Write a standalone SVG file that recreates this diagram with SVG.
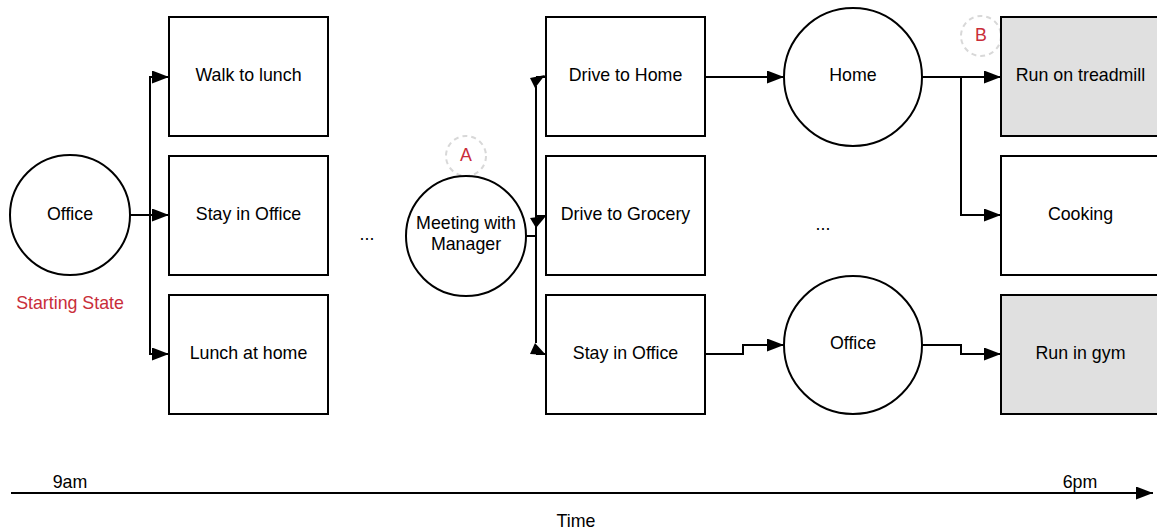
<svg xmlns="http://www.w3.org/2000/svg" width="1157" height="531" viewBox="0 0 1157 531">
<defs>
<marker id="arr" viewBox="0 0 17 13" refX="17" refY="6.5" markerWidth="17" markerHeight="13" markerUnits="userSpaceOnUse" orient="auto">
<path d="M0,0 L17,6.5 L0,13 Z" fill="#000"/>
</marker>
</defs>
<style>
.box{fill:#fff;stroke:#000;stroke-width:2}
.gray{fill:#e0e0e0}
.circ{fill:#fff;stroke:#000;stroke-width:2}
.t{font-family:"Liberation Sans",Arial,sans-serif;font-size:17.8px;fill:#000;text-anchor:middle}
.red{fill:#c92d39}
.con{fill:none;stroke:#000;stroke-width:2}
.tag{fill:#fff;stroke:#d8d8d8;stroke-width:2;stroke-dasharray:5,4}
</style>
<rect width="1157" height="531" fill="#fff"/>
<g id="connectors">
<path class="con" d="M130,215 H150 V77 H169" marker-end="url(#arr)"/>
<path class="con" d="M150,215 H169" marker-end="url(#arr)"/>
<path class="con" d="M150,215 V354 H169" marker-end="url(#arr)"/>
<path class="con" d="M526,236 H536 M536,86 V343 M536,77 H546 M536,216 H546 M536,354 H546"/>
<polygon points="530,78 545,75 535,88" fill="#000"/>
<polygon points="530,218 546,216 536,228" fill="#000"/>
<polygon points="535,343 530,354 546,355" fill="#000"/>
<path class="con" d="M705,77 H784" marker-end="url(#arr)"/>
<path class="con" d="M705,354 H743 V345 H784" marker-end="url(#arr)"/>
<path class="con" d="M922,77 H1001" marker-end="url(#arr)"/>
<path class="con" d="M961,77 V215 H1001" marker-end="url(#arr)"/>
<path class="con" d="M922,345 H961 V354 H1001" marker-end="url(#arr)"/>
<path class="con" d="M11,493 H1153" marker-end="url(#arr)"/>
</g>
<g id="office-start">
<circle class="circ" cx="70" cy="215" r="60"/>
<text class="t" x="70" y="220">Office</text>
<text class="t red" x="70" y="309">Starting State</text>
</g>
<g id="walk-to-lunch"><rect class="box" x="169" y="17" width="159" height="119"/><text class="t" x="248.5" y="81">Walk to lunch</text></g>
<g id="stay-in-office-1"><rect class="box" x="169" y="156" width="159" height="119"/><text class="t" x="248.5" y="220">Stay in Office</text></g>
<g id="lunch-at-home"><rect class="box" x="169" y="295" width="159" height="119"/><text class="t" x="248.5" y="359">Lunch at home</text></g>
<g id="dots-1"><text class="t" x="367" y="240">...</text></g>
<g id="tag-a"><circle class="tag" cx="466" cy="156" r="20"/><text class="t red" x="466" y="161">A</text></g>
<g id="meeting">
<circle class="circ" cx="466" cy="236" r="60"/>
<text class="t" x="466" y="229">Meeting with</text>
<text class="t" x="466" y="250">Manager</text>
</g>
<g id="drive-to-home"><rect class="box" x="546" y="17" width="159" height="119"/><text class="t" x="625.5" y="81">Drive to Home</text></g>
<g id="drive-to-grocery"><rect class="box" x="546" y="156" width="159" height="119"/><text class="t" x="625.5" y="220">Drive to Grocery</text></g>
<g id="stay-in-office-2"><rect class="box" x="546" y="295" width="159" height="119"/><text class="t" x="625.5" y="359">Stay in Office</text></g>
<g id="home"><circle class="circ" cx="853" cy="77" r="69"/><text class="t" x="853" y="81">Home</text></g>
<g id="dots-2"><text class="t" x="823" y="230">...</text></g>
<g id="office-2"><circle class="circ" cx="853" cy="345" r="69"/><text class="t" x="853" y="349">Office</text></g>
<g id="tag-b"><circle class="tag" cx="981" cy="36" r="20"/><text class="t red" x="981" y="41">B</text></g>
<g id="run-on-treadmill"><rect class="box gray" x="1001" y="17" width="159" height="119"/><text class="t" x="1080.5" y="81">Run on treadmill</text></g>
<g id="cooking"><rect class="box" x="1001" y="156" width="159" height="119"/><text class="t" x="1080.5" y="220">Cooking</text></g>
<g id="run-in-gym"><rect class="box gray" x="1001" y="295" width="159" height="119"/><text class="t" x="1080.5" y="359">Run in gym</text></g>
<g id="timeline-labels">
<text class="t" x="70" y="488">9am</text>
<text class="t" x="1080" y="488">6pm</text>
<text class="t" x="576" y="527">Time</text>
</g>
</svg>
